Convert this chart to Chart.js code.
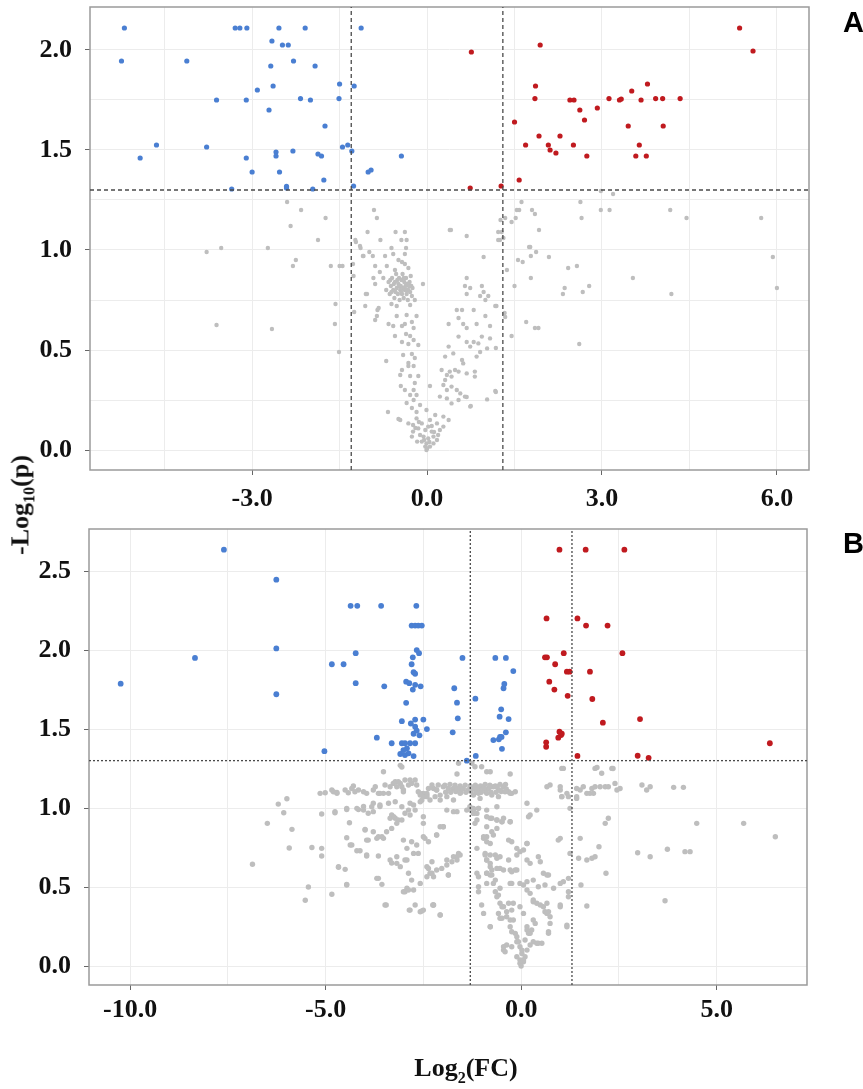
<!DOCTYPE html>
<html>
<head>
<meta charset="utf-8">
<script src="https://cdn.jsdelivr.net/npm/chart.js"></script>
<style>
  body { margin: 0; background: #fff; width: 863px; height: 1089px; position: relative; overflow: hidden; }
  canvas { position: absolute; left: 0; }
  #cA { top: 0; }
  #cB { top: 515px; }
  .tag { position: absolute; left: 843px; font: bold 29px "Liberation Sans", Arial, sans-serif; color: #000; }
  #ytitle { position: absolute; left: 22px; top: 505px; transform: translate(-50%, -50%) rotate(-90deg);
            font: bold 26px "Liberation Serif", serif; white-space: nowrap; color: #111; }
  #xtitle { position: absolute; left: 466px; top: 1070px; transform: translate(-50%, -50%);
            font: bold 26px "Liberation Serif", serif; white-space: nowrap; color: #111; }
  sub { font-size: 62%; }
</style>
</head>
<body>
<canvas id="cA" width="863" height="515"></canvas>
<canvas id="cB" width="863" height="574"></canvas>
<div class="tag" style="top:6px">A</div>
<div class="tag" style="top:527px">B</div>
<div id="ytitle">-Log<sub>10</sub>(p)</div>
<div id="xtitle">Log<sub>2</sub>(FC)</div>
<script>
// cut-offs
const pCut = 1.3;
const fcCut = 1.3;

// panel A axes
const xRangeA = [-5.78, 6.55];
const yRangeA = [-0.1, 2.215];
const xGridA = [-4.5, -3, -1.5, 0, 1.5, 3, 4.5, 6];
const xLabelsA = [-3, 0, 3, 6];
const yGridA = [0, 0.25, 0.5, 0.75, 1, 1.25, 1.5, 1.75, 2];
const yLabelsA = [0, 0.5, 1, 1.5, 2];

// panel B axes
const xRangeB = [-11.05, 7.31];
const yRangeB = [-0.12, 2.766];
const xGridB = [-10, -7.5, -5, -2.5, 0, 2.5, 5];
const xLabelsB = [-10, -5, 0, 5];
const yGridB = [0, 0.5, 1, 1.5, 2, 2.5];
const yLabelsB = [0, 0.5, 1, 1.5, 2, 2.5];

// panel A points [log2FC, -log10 p]
const blueA = [
  [-5.19,2.11],[-5.24,1.945],[-3.29,2.11],[-3.21,2.11],[-3.09,2.11],[-2.54,2.11],[-2.09,2.11],[-1.13,2.11],
  [-2.66,2.045],[-2.48,2.025],[-2.38,2.025],[-4.12,1.945],[-2.29,1.945],[-2.68,1.92],[-1.92,1.92],
  [-1.50,1.83],[-1.25,1.82],[-2.64,1.82],[-2.91,1.80],[-3.61,1.75],[-3.10,1.75],[-2.17,1.757],[-2.00,1.75],[-1.51,1.757],
  [-2.71,1.70],[-1.75,1.62],[-4.64,1.525],[-3.78,1.515],[-4.92,1.46],[-3.10,1.46],[-2.59,1.49],[-2.59,1.47],[-2.30,1.495],
  [-1.87,1.48],[-1.81,1.47],[-1.45,1.515],[-1.36,1.525],[-1.29,1.495],[-0.44,1.47],[-1.01,1.39],[-0.96,1.40],
  [-3.00,1.39],[-2.53,1.39],[-1.77,1.35],[-1.26,1.32],[-3.35,1.305],[-2.41,1.31],[-2.41,1.318],[-1.96,1.305]
];
const redA = [
  [0.76,1.99],[1.94,2.025],[5.36,2.11],[5.59,1.995],[1.86,1.82],[1.85,1.757],[1.50,1.64],[2.45,1.75],[2.52,1.75],
  [2.62,1.70],[2.70,1.65],[2.92,1.71],[3.12,1.757],[3.30,1.75],[3.33,1.755],[3.51,1.795],[3.67,1.75],[3.78,1.83],
  [3.92,1.757],[4.04,1.757],[4.34,1.757],[3.45,1.62],[4.05,1.62],[1.92,1.57],[2.28,1.57],[1.69,1.525],[2.08,1.525],
  [2.11,1.50],[2.21,1.485],[2.51,1.525],[2.74,1.47],[3.64,1.525],[3.58,1.47],[3.76,1.47],[1.58,1.35],[1.27,1.32],[0.74,1.31]
];
const grayA = [
  [-2.40,1.24],[-2.16,1.20],[-1.74,1.16],[-2.34,1.12],[-1.87,1.05],[-3.53,1.01],[-2.73,1.01],[-3.78,0.99],
  [-2.30,0.92],[-2.25,0.95],[-1.65,0.92],[-1.50,0.92],[-1.45,0.92],[-1.57,0.73],[-1.58,0.63],[-1.51,0.49],[-3.61,0.625],[-2.66,0.605],
  [-1.23,1.05],[-1.15,1.02],[-1.02,1.09],[-0.80,1.05],[-1.09,0.97],[-0.93,0.97],[-1.27,0.93],[-1.26,0.87],[-1.03,0.78],[-1.06,0.72],
  [-0.85,0.70],[-0.89,0.65],[-0.86,0.67],[-1.25,0.69],[-0.70,0.445],[-0.67,0.19],[-0.07,0.83],
  [-0.91,1.20],[-0.86,1.16],[-0.54,1.09],[-0.38,1.09],[-0.35,1.05],[-0.44,1.05],[-0.61,1.01],[0.41,1.10],[0.68,1.07],
  [-1.22,1.04],[-1.14,1.01],[-1.10,0.97],[-0.99,0.99],[-0.58,0.98],[-0.36,1.01],[-0.38,0.98],[-0.72,0.97],[-0.49,0.95],[-0.43,0.94],
  [-0.89,0.92],[-0.81,0.89],[-0.69,0.92],[-0.55,0.90],[-0.38,0.93],[-0.32,0.91],[-0.92,0.86],[-0.89,0.83],[-0.75,0.86],
  [-0.70,0.80],[-0.66,0.84],[-0.64,0.78],[-0.62,0.82],[-0.60,0.86],[-0.58,0.80],[-0.56,0.76],[-0.55,0.84],[-0.53,0.88],[-0.52,0.81],
  [-0.50,0.78],[-0.49,0.83],[-0.48,0.86],[-0.47,0.75],[-0.46,0.80],[-0.45,0.82],[-0.44,0.85],[-0.43,0.78],[-0.42,0.88],[-0.41,0.81],
  [-0.40,0.76],[-0.39,0.84],[-0.38,0.80],[-0.37,0.82],[-0.36,0.86],[-0.35,0.78],[-0.34,0.83],[-0.33,0.75],[-0.32,0.80],[-0.30,0.84],
  [-0.29,0.79],[-0.28,0.87],[-0.27,0.82],[-0.26,0.77],[-0.25,0.81],[-0.54,0.79],[-0.51,0.85],[-0.57,0.83],[-0.61,0.79],[-0.63,0.85],
  [-0.44,0.79],[-0.40,0.86],[-0.36,0.80],[-0.31,0.82],[-0.47,0.82],
  [-1.05,0.78],[-0.83,0.71],[-0.61,0.73],[-0.52,0.72],[-0.29,0.725],[-0.21,0.75],
  [-0.52,0.67],[-0.35,0.675],[-0.18,0.67],[-0.26,0.64],[-0.38,0.63],[-0.43,0.62],[-0.23,0.61],[-0.66,0.63],[-0.58,0.62],[-0.55,0.57],
  [-0.36,0.58],[-0.29,0.57],[-0.23,0.55],[-0.32,0.53],[-0.15,0.525],[-0.43,0.54],
  [-0.41,0.475],[-0.26,0.48],[-0.21,0.46],[-0.32,0.435],[-0.23,0.42],
  [-0.43,0.40],[-0.32,0.42],[-0.46,0.375],[-0.29,0.37],[-0.15,0.37],[-0.21,0.335],
  [-0.45,0.32],[-0.38,0.30],[-0.23,0.30],[-0.18,0.275],[-0.29,0.275],[0.05,0.32],
  [-0.35,0.235],[-0.23,0.25],[-0.12,0.225],[-0.26,0.21],[-0.18,0.19],[-0.49,0.155],[-0.46,0.15],
  [-0.32,0.133],[-0.24,0.125],[-0.15,0.108],[-0.09,0.133],[-0.03,0.10],[0.02,0.117],[0.08,0.092],[-0.06,0.067],[0.02,0.058],[0.11,0.067],
  [-0.12,0.075],[-0.24,0.092],[-0.01,0.033],[0.05,0.017],[-0.03,0.017],[-0.09,0.042],[0.11,0.033],[0.17,0.05],[0.19,0.075],[0.22,0.10],
  [0.28,0.117],[0.17,0.133],[0.05,0.15],[-0.18,0.158],[-0.01,0.20],[0.28,0.167],[0.14,0.175],[0.37,0.15],[-0.26,0.067],[-0.17,0.042],[-0.01,0.0],
  [0.00,0.008],[0.04,0.04],[-0.05,0.05],[0.08,0.12],[-0.14,0.14],[0.12,0.09],[-0.20,0.11],
  [0.39,1.10],[0.97,0.965],[0.68,0.86],[0.65,0.82],[0.74,0.81],[0.68,0.78],[0.94,0.82],[0.97,0.79],[0.91,0.77],[1.00,0.75],[1.05,0.77],
  [0.51,0.70],[0.60,0.70],[0.54,0.66],[0.62,0.63],[0.68,0.61],[0.37,0.63],[0.80,0.70],[1.00,0.67],[0.85,0.63],[1.08,0.62],[1.17,0.72],
  [0.54,0.567],[0.68,0.54],[0.74,0.517],[0.80,0.54],[0.88,0.533],[0.94,0.567],[1.08,0.558],[1.03,0.508],[0.91,0.49],[0.85,0.467],
  [0.37,0.517],[0.31,0.467],[0.45,0.483],[0.60,0.45],[0.62,0.433],[0.48,0.40],[0.39,0.392],[0.34,0.375],[0.42,0.367],[0.54,0.392],[0.68,0.383],[0.82,0.392],[0.82,0.367],
  [0.25,0.40],[0.31,0.35],[0.28,0.325],[0.34,0.30],[0.42,0.317],[0.51,0.30],[0.57,0.283],[0.22,0.267],[0.34,0.258],[0.42,0.233],[0.54,0.25],[0.65,0.267],[0.74,0.217],[1.03,0.253],[1.17,0.295],
  [1.28,1.09],[1.25,1.05],[1.31,1.06],[1.18,0.29],[0.75,0.22],[0.68,0.265],[1.22,1.09],[1.22,1.05],
  [1.62,1.24],[1.54,1.20],[1.58,1.20],[1.80,1.20],[1.85,1.18],[1.52,1.16],[1.45,1.14],[1.26,1.15],[1.34,1.16],[1.92,1.10],[1.75,1.015],
  [2.63,1.24],[2.98,1.20],[3.13,1.20],[2.65,1.16],[3.19,1.28],[2.98,1.295],[4.17,1.20],[4.45,1.16],[5.73,1.16],
  [5.93,0.965],[6.00,0.81],[3.53,0.86],[4.19,0.78],[2.33,0.78],[2.36,0.81],[2.67,0.79],[2.78,0.82],[2.42,0.91],[2.57,0.92],[2.61,0.53],
  [2.09,0.965],[1.77,1.015],[1.78,0.97],[1.87,0.99],[1.56,0.95],[1.64,0.94],[1.78,0.86],[1.50,0.82],[1.37,0.90],[1.70,0.64],[1.85,0.61],[1.91,0.61],
  [1.45,0.57],[1.33,0.685],[1.34,0.665],[1.19,0.72],[1.18,0.51]
];

// panel B points
const blueB = [
  [-10.24,1.787],[-8.34,1.95],[-7.60,2.635],[-6.26,2.445],[-6.26,2.01],[-6.26,1.72],[-5.03,1.36],[-4.84,1.91],[-4.54,1.91],
  [-4.36,2.28],[-4.19,2.28],[-3.58,2.28],[-2.68,2.28],[-4.23,1.98],[-4.23,1.79],[-3.50,1.77],[-3.69,1.445],[-3.31,1.41],
  [-2.80,2.155],[-2.71,2.155],[-2.63,2.155],[-2.54,2.155],[-2.67,2.00],[-2.61,1.98],[-2.77,1.954],[-2.80,1.91],[-2.75,1.86],[-2.71,1.85],
  [-2.94,1.80],[-2.86,1.79],[-2.77,1.75],[-2.71,1.78],[-2.57,1.77],[-2.94,1.666],[-3.05,1.55],[-2.82,1.535],[-2.71,1.56],[-2.50,1.56],
  [-2.71,1.515],[-2.67,1.49],[-2.41,1.50],[-2.75,1.47],[-2.60,1.46],[-3.05,1.41],[-2.97,1.41],[-2.84,1.41],[-2.71,1.41],
  [-2.92,1.378],[-3.01,1.367],[-3.09,1.342],[-2.97,1.335],[-2.75,1.329],[-2.88,1.346],
  [-1.50,1.95],[-0.66,1.95],[-0.39,1.95],[-0.20,1.867],[-1.71,1.758],[-1.64,1.667],[-1.62,1.568],[-1.75,1.479],[-1.17,1.692],
  [-0.43,1.785],[-0.45,1.758],[-0.51,1.625],[-0.55,1.578],[-0.32,1.563],[-0.39,1.479],[-0.54,1.45],[-0.71,1.43],[-0.49,1.375],
  [-0.57,1.435],[-0.50,1.45],[-1.39,1.30],[-1.16,1.33]
];
const redB = [
  [0.98,2.635],[1.65,2.635],[2.64,2.635],[0.65,2.20],[1.44,2.20],[1.66,2.155],[2.21,2.155],[1.09,1.98],[2.59,1.98],
  [0.61,1.954],[0.66,1.954],[0.87,1.91],[1.17,1.863],[1.24,1.863],[1.76,1.863],[0.72,1.80],[0.85,1.75],[1.19,1.71],
  [1.82,1.69],[2.09,1.54],[3.04,1.563],[0.98,1.483],[1.02,1.462],[0.95,1.445],[1.04,1.47],[0.64,1.416],[0.64,1.388],
  [6.36,1.41],[1.44,1.33],[2.98,1.331],[3.26,1.318]
];
const grayB = [
  [-6.87,0.644],[-6.49,0.903],[-6.21,1.025],[-5.99,1.059],[-6.07,0.97],[-5.86,0.865],[-5.93,0.747],[-5.35,0.75],[-5.10,0.745],[-5.10,0.696],
  [-5.44,0.50],[-5.52,0.416],[-4.84,0.454],[-5.14,1.093],[-5.01,1.097],[-4.84,1.114],[-4.71,1.099],[-5.10,0.962],[-4.76,0.97],
  [-4.50,1.114],[-4.42,1.097],[-4.29,1.139],[-4.16,1.114],[-4.03,1.103],[-4.46,0.99],[-4.16,0.99],[-4.03,1.01],[-3.91,0.967],
  [-4.39,0.907],[-4.46,0.812],[-4.33,0.766],[-4.20,0.73],[-4.12,0.73],[-3.95,0.696],[-3.65,0.696],[-4.67,0.625],[-4.50,0.612],[-4.46,0.517],
  [-3.99,0.865],[-3.91,0.797],[-3.78,0.85],[-3.69,0.808],[-3.56,0.818],[-3.44,0.85],
  [-3.95,1.093],[-3.73,1.135],[-3.61,1.093],[-3.48,1.146],[-3.39,1.093],[-3.27,1.156],[-3.22,1.167],[-3.18,1.135],[-3.09,1.156],[-3.01,1.114],
  [-2.97,1.177],[-2.88,1.146],[-2.80,1.156],[-2.71,1.177],[-2.67,1.146],[-3.52,1.23],[-3.09,1.27],[-3.05,1.26],
  [-3.78,1.03],[-3.61,1.01],[-3.31,0.956],[-3.22,0.935],[-3.14,0.924],[-2.97,0.967],[-2.88,0.987],[-2.75,1.019],[-2.54,1.05],[-2.41,1.082],[-2.24,1.124],[-2.12,1.146],
  [-3.35,0.671],[-3.31,0.652],[-3.18,0.692],[-3.09,0.629],[-2.97,0.671],[-2.88,0.587],[-2.80,0.544],[-2.92,0.492],[-2.75,0.481],[-2.97,0.47],
  [-3.69,0.555],[-3.56,0.517],[-3.45,0.386],[-2.86,0.354],[-2.71,0.386],[-2.54,0.348],[-2.26,0.386],
  [-2.58,0.523],[-2.41,0.629],[-2.33,0.587],[-2.24,0.565],[-2.16,0.608],[-2.50,0.818],[-2.50,0.945],[-2.67,0.766],[-2.63,0.713],
  [-4.80,1.103],[-4.71,1.093],[-4.33,1.124],[-4.25,1.103],[-3.78,1.114],[-3.65,1.093],[-3.52,1.093],[-3.35,1.135],[-3.14,1.167],[-3.05,1.135],
  [-3.01,1.103],[-2.84,1.177],[-2.63,1.103],[-2.50,1.093],[-2.37,1.124],[-2.28,1.146],[-2.16,1.114],
  [-1.99,1.135],[-1.86,1.124],[-1.73,1.124],[-1.60,1.124],[-1.48,1.124],[-1.35,1.114],[-1.22,1.124],[-1.09,1.124],[-0.96,1.135],[-0.84,1.124],
  [-0.71,1.135],[-0.58,1.114],[-0.45,1.135],[-0.32,1.103],[-0.24,1.093],
  [-1.93,1.10],[-1.80,1.10],[-1.67,1.105],[-1.54,1.10],[-1.41,1.10],[-1.28,1.105],[-1.15,1.10],[-1.02,1.10],[-0.90,1.105],[-0.77,1.10],[-0.64,1.10],[-0.51,1.105],[-0.38,1.12],
  [-1.95,1.145],[-1.82,1.15],[-1.69,1.145],[-1.56,1.14],[-1.43,1.145],[-1.30,1.14],[-1.17,1.145],[-1.04,1.14],[-0.92,1.15],[-0.80,1.145],[-0.66,1.14],[-0.54,1.15],[-0.40,1.15],
  [-4.76,0.977],[-4.46,0.998],[-4.20,0.998],[-4.03,0.987],[-3.82,1.008],[-3.78,0.977],[-3.61,1.019],[-3.39,1.03],[-3.22,1.04],[-3.05,1.008],
  [-2.84,1.03],[-2.58,1.082],[-2.41,1.093],[-2.33,1.051],[-2.20,1.072],[-2.07,1.082],
  [-1.90,0.987],[-1.64,0.977],[-1.39,0.987],[-1.22,0.998],[-1.13,0.966],[-0.88,0.987],[-0.62,1.008],[-0.45,0.935],[-0.28,0.913],[0.15,1.03],[0.40,0.987],[0.23,0.956],
  [1.00,1.114],[1.04,1.072],[0.74,1.146],[0.66,1.135],[1.08,1.251],[1.00,0.808],[1.51,1.114],[1.42,1.061],[1.68,1.093],
  [-4.37,0.766],[-3.99,0.861],[-3.95,0.797],[-3.65,0.818],[-3.52,0.808],[-3.31,0.871],[-3.18,0.903],[-3.05,0.924],[-2.84,0.956],[-2.71,0.987],[-2.58,1.04],[-2.50,1.072],
  [-2.16,0.829],[-1.99,0.882],[-2.37,0.787],[-3.01,0.797],[-2.80,0.787],[-2.92,0.745],[-2.75,0.713],[-3.95,0.703],[-3.18,0.65],[-2.92,0.671],[-3.35,0.935],[-3.26,0.945],
  [-2.41,0.565],[-2.28,0.587],[-2.03,0.618],[-1.90,0.639],[-1.77,0.66],[-1.64,0.692],[-1.60,0.713],
  [-4.67,0.629],[-4.46,0.513],[-3.65,0.555],[-3.48,0.386],[-3.01,0.47],[-2.88,0.481],[-2.84,0.354],[-2.58,0.344],[-2.24,0.386],[-2.07,0.323],[-1.86,0.576],
  [-1.30,0.998],[-1.22,0.966],[-1.13,0.924],[-1.09,0.998],[-0.88,0.882],[-0.79,0.935],[-0.62,0.924],[-0.49,0.913],[-0.88,0.818],[-0.96,0.808],
  [-0.79,0.776],[-0.71,0.829],[-1.13,0.745],[-0.92,0.703],[-0.79,0.703],[-0.66,0.703],[-0.54,0.692],[-0.88,0.671],[-0.79,0.629],[-0.88,0.587],
  [-0.79,0.576],[-0.62,0.618],[-0.45,0.608],[-0.24,0.597],[-0.11,0.608],[-1.13,0.587],[-1.09,0.502],[-1.09,0.47],[-0.88,0.523],[-0.71,0.523],
  [-0.66,0.47],[-0.62,0.439],[-0.54,0.397],[-0.45,0.375],[-0.37,0.344],[-0.28,0.291],[-0.20,0.291],[-0.58,0.333],[-0.49,0.302],[-0.79,0.249],
  [-0.20,0.397],[-0.03,0.375],[0.06,0.333],[-0.28,0.249],[-0.24,0.217],[-0.15,0.207],[-0.11,0.185],[-0.07,0.154],[-0.03,0.122],[0.02,0.08],
  [-0.03,0.038],[0.06,0.027],[0.10,0.059],[0.15,0.101],[0.23,0.133],[0.31,0.154],[0.44,0.144],[-0.45,0.101],[-0.37,0.133],[-0.24,0.122],
  [0.23,0.207],[0.15,0.249],[0.31,0.291],[0.40,0.397],[0.57,0.375],[0.70,0.344],[0.74,0.312],[0.70,0.217],[0.31,0.407],[0.23,0.46],
  [0.15,0.481],[0.06,0.513],[-0.03,0.523],[-0.24,0.523],[-0.11,0.703],[0.06,0.734],[0.15,0.776],[-0.24,0.787],[0.15,0.671],[0.23,0.65],
  [0.44,0.692],[0.49,0.66],[0.70,0.576],[1.00,0.523],[1.08,0.534],[1.21,0.47],[1.21,0.439],[1.00,0.386],[1.17,0.259],[0.95,0.797],
  [1.25,0.713],[1.21,1.072],[1.25,0.998],
  [0.19,0.945],[-0.28,0.913],[-0.32,0.797],[-0.03,0.724],[0.15,0.776],[-0.11,0.745],[-0.15,0.608],[-0.28,0.523],[0.15,0.534],[0.31,0.544],
  [0.44,0.502],[0.61,0.513],[0.83,0.492],[1.00,0.375],[1.17,0.249],[1.21,0.555],[0.66,0.576],[0.57,0.587],[0.31,0.418],[0.49,0.386],
  [0.66,0.397],[0.66,0.333],[0.74,0.27],[0.61,0.344],[0.36,0.27],[0.27,0.228],[0.70,0.207],[0.40,0.144],[0.53,0.144],[0.15,0.228],
  [-0.45,0.122],[-0.41,0.09],[-0.11,0.154],[-0.11,0.059],[-0.03,0.017],[0.06,0.038],[0.02,0.101],[0.10,0.165],[0.19,0.207],[0.00,0.0],
  [-2.58,1.093],[-2.41,1.072],[-2.16,1.114],[-2.07,1.051],[-1.90,1.072],[-1.73,1.051],[-1.56,1.093],[-2.07,0.882],[-1.73,0.977],[-1.99,0.882],
  [-2.50,0.903],[-2.46,0.808],[-2.16,0.829],[-1.90,0.671],[-1.73,0.692],[-2.37,0.618],[-2.28,0.66],[-2.24,0.386],[-2.07,0.323],[-2.50,0.354],
  [-1.86,0.576],[-1.56,0.703],[-1.64,0.671],
  [-1.31,1.124],[-1.13,1.124],[-0.96,1.124],[-0.79,1.135],[-0.62,1.135],[-0.54,1.114],[-0.41,1.103],[-0.88,1.093],[-1.09,1.093],[-1.22,1.082],
  [-1.31,1.008],[-1.22,0.987],[-1.09,0.998],[-1.05,1.061],[-0.75,1.082],[-0.58,1.072],[-0.28,1.093],[-0.15,1.103],[-0.88,0.945],[-0.75,0.935],
  [-0.62,0.924],[-0.49,0.913],[-1.18,0.903],[-0.96,0.818],[-0.75,0.85],[-0.88,0.787],[-0.62,0.871],[-0.92,0.713],[-0.88,0.671],[-0.79,0.65],
  [-0.62,0.682],[-0.75,0.608],[-0.88,0.587],[-0.75,0.576],[-1.09,0.565],[-0.54,0.618],[-0.28,0.608],[-0.32,0.671],[-0.66,0.544],[-0.54,0.492],
  [-0.58,0.449],[-0.32,0.397],[-0.49,0.375],[-0.24,0.354],[-0.37,0.312],[-1.01,0.386],[-0.96,0.333],[-0.79,0.249],[-0.54,0.302],
  [1.94,1.257],[2.06,1.22],[2.35,1.25],[1.42,1.124],[1.59,1.135],[1.81,1.124],[1.89,1.135],[2.02,1.135],[2.15,1.135],[2.23,1.135],
  [2.40,1.156],[2.45,1.114],[2.53,1.124],[1.76,1.093],[1.85,1.093],[1.42,1.072],
  [3.09,1.146],[3.21,1.114],[3.30,1.135],[3.90,1.131],[4.15,1.131],[4.49,0.903],[5.69,0.903],[6.50,0.818],[2.15,0.903],[2.23,0.935],
  [1.51,0.808],[1.99,0.755],[1.47,0.682],[1.68,0.671],[1.81,0.682],[1.89,0.692],[2.17,0.587],[1.53,0.513],[1.68,0.38],
  [2.98,0.717],[3.30,0.692],[3.74,0.739],[4.19,0.724],[4.32,0.724],[3.68,0.413],[1.00,1.135],[1.17,1.093],[1.04,1.072],
  [-1.60,1.283],[-1.64,1.215],[-1.26,1.283],[-1.18,1.261],[-1.01,1.261],[-0.88,1.23],[-0.79,1.23],[-0.28,1.215],[1.89,1.251],[2.32,1.251],[1.04,1.251]
];

const pts = arr => arr.map(([x, y]) => ({ x, y }));

function dots(arr, color, r) {
  return { data: pts(arr), backgroundColor: color, borderWidth: 0, pointRadius: r, pointHoverRadius: r };
}

function cutLines(xr, yr, dash) {
  const line = (a, b) => ({
    data: [a, b], showLine: true, pointRadius: 0, borderColor: '#4a4a4a',
    borderWidth: 1.3, borderDash: dash, fill: false
  });
  return [
    line({ x: xr[0], y: pCut }, { x: xr[1], y: pCut }),
    line({ x: -fcCut, y: yr[0] }, { x: -fcCut, y: yr[1] }),
    line({ x: fcCut, y: yr[0] }, { x: fcCut, y: yr[1] })
  ];
}

function axis(range, grid, labels, pad, fit) {
  return {
    type: 'linear', min: range[0], max: range[1],
    afterBuildTicks: s => { s.ticks = grid.map(v => ({ value: v })); },
    afterFit: s => {
      fit(s);
      // no extra room for half-labels at the axis ends
      s.paddingTop = 0; s.paddingBottom = 0; s.paddingLeft = 0; s.paddingRight = 0;
    },
    border: { display: false },
    grid: {
      color: '#ececec', lineWidth: 1, tickLength: 5,
      tickColor: c => (c.tick && labels.includes(c.tick.value)) ? '#666' : 'rgba(0,0,0,0)'
    },
    ticks: {
      padding: pad, color: '#111', autoSkip: false, maxRotation: 0,
      font: { family: '"Liberation Serif", serif', size: 26, weight: 'bold' },
      callback: v => labels.includes(v) ? v.toFixed(1) : ''
    }
  };
}

// grey box round the plot area
const frame = {
  id: 'frame',
  beforeDatasetsDraw(chart) {
    const a = chart.chartArea, ctx = chart.ctx;
    ctx.save();
    ctx.strokeStyle = '#9a9a9a';
    ctx.lineWidth = 1.5;
    ctx.strokeRect(a.left, a.top, a.right - a.left, a.bottom - a.top);
    ctx.restore();
  }
};

function panel(id, blue, red, gray, xr, yr, xg, xl, yg, yl, opt) {
  new Chart(document.getElementById(id), {
    type: 'scatter',
    data: {
      datasets: [
        ...cutLines(xr, yr, opt.dash),
        dots(red, '#c01a1f', opt.r),
        dots(blue, '#4a7fd2', opt.r),
        dots(gray, '#bebebe', opt.rg)
      ]
    },
    options: {
      responsive: false, animation: false, events: [],
      layout: { padding: { top: opt.top, right: opt.right, left: 0, bottom: 0 } },
      plugins: { legend: { display: false }, tooltip: { enabled: false } },
      scales: {
        x: axis(xr, xg, xl, opt.xpad, s => { s.height = opt.xh; }),
        y: axis(yr, yg, yl, 13, s => { s.width = opt.yw; })
      }
    },
    plugins: [frame]
  });
}

panel('cA', blueA, redA, grayA, xRangeA, yRangeA, xGridA, xLabelsA, yGridA, yLabelsA,
  { dash: [4, 3], r: 2.6, rg: 2.2, top: 7, right: 54, xh: 45, yw: 90, xpad: 9 });
panel('cB', blueB, redB, grayB, xRangeB, yRangeB, xGridB, xLabelsB, yGridB, yLabelsB,
  { dash: [2, 2], r: 2.9, rg: 2.7, top: 14, right: 56, xh: 104, yw: 89, xpad: 5 });
</script>
</body>
</html>
